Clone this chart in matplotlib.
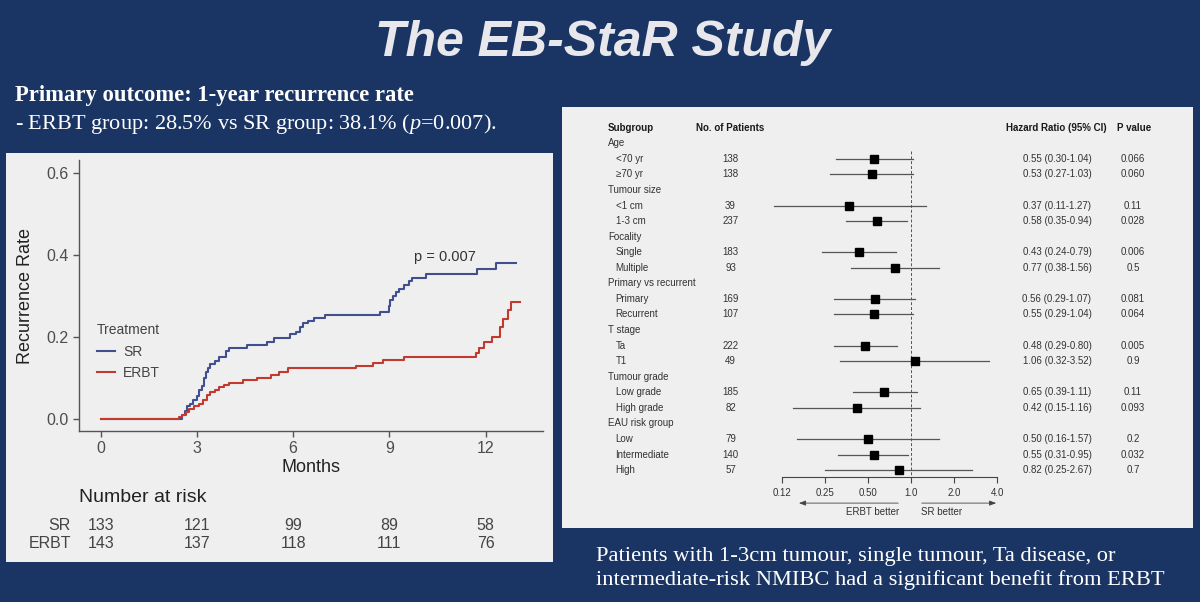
import matplotlib
matplotlib.use("Agg")
import matplotlib.pyplot as plt
import matplotlib.transforms as mtransforms
from matplotlib.patches import Rectangle
from matplotlib.ticker import NullLocator

plt.rcParams['font.family'] = ['Liberation Sans', 'DejaVu Sans']
plt.rcParams['mathtext.fontset'] = 'custom'
plt.rcParams['mathtext.it'] = 'Liberation Serif:italic'
plt.rcParams['mathtext.rm'] = 'Liberation Serif'

# ---- Kaplan-Meier style cumulative recurrence ----
sr_months = [0, 2.48, 2.55, 2.62, 2.70, 2.78, 2.88, 3.00, 3.05, 3.15, 3.22, 3.28, 3.35,
             3.42, 3.55, 3.70, 3.92, 4.00, 4.55, 5.20, 5.40, 5.90, 6.10, 6.22, 6.30,
             6.45, 6.65, 7.00, 8.70, 8.98, 9.02, 9.10, 9.20, 9.30, 9.45, 9.60, 9.72,
             10.15, 11.73, 12.34, 12.95]
sr_rate = [0, 0.0, 0.008, 0.02, 0.03, 0.037, 0.045, 0.055, 0.07, 0.08, 0.10, 0.115, 0.125,
           0.133, 0.14, 0.15, 0.165, 0.172, 0.18, 0.188, 0.197, 0.206, 0.213, 0.225, 0.235,
           0.24, 0.247, 0.253, 0.262, 0.275, 0.29, 0.30, 0.31, 0.318, 0.326, 0.336, 0.345,
           0.353, 0.365, 0.381, 0.381]
erbt_months = [0, 2.45, 2.55, 2.65, 2.75, 2.90, 3.05, 3.20, 3.30, 3.40, 3.55, 3.70, 3.85,
               4.00, 4.43, 4.88, 5.30, 5.55, 5.85, 7.95, 8.50, 8.80, 9.45, 11.70, 11.80,
               11.95, 12.20, 12.45, 12.55, 12.70, 12.78, 13.06]
erbt_rate = [0, 0.005, 0.01, 0.017, 0.024, 0.03, 0.037, 0.047, 0.057, 0.065, 0.07, 0.077, 0.083,
             0.088, 0.095, 0.10, 0.107, 0.115, 0.123, 0.13, 0.137, 0.143, 0.15, 0.16, 0.172,
             0.188, 0.20, 0.225, 0.245, 0.266, 0.286, 0.286]

risk_months = [0, 3, 6, 9, 12]
risk_sr = [133, 121, 99, 89, 58]
risk_erbt = [143, 137, 118, 111, 76]

# ---- forest plot rows ----
row_labels = ["Age", "<70 yr", "\u226570 yr", "Tumour size", "<1 cm", "1-3 cm",
              "Focality", "Single", "Multiple", "Primary vs recurrent", "Primary", "Recurrent",
              "T stage", "Ta", "T1", "Tumour grade", "Low grade", "High grade",
              "EAU risk group", "Low", "Intermediate", "High"]
patients = [None, 138, 138, None, 39, 237, None, 183, 93, None, 169, 107,
            None, 222, 49, None, 185, 82, None, 79, 140, 57]
hr = [None, 0.55, 0.53, None, 0.37, 0.58, None, 0.43, 0.77, None, 0.56, 0.55,
      None, 0.48, 1.06, None, 0.65, 0.42, None, 0.50, 0.55, 0.82]
ci_low = [None, 0.30, 0.27, None, 0.11, 0.35, None, 0.24, 0.38, None, 0.29, 0.29,
          None, 0.29, 0.32, None, 0.39, 0.15, None, 0.16, 0.31, 0.25]
ci_high = [None, 1.04, 1.03, None, 1.27, 0.94, None, 0.79, 1.56, None, 1.07, 1.04,
           None, 0.80, 3.52, None, 1.11, 1.16, None, 1.57, 0.95, 2.67]
p_values = [None, "0.066", "0.060", None, "0.11", "0.028", None, "0.006", "0.5", None,
            "0.081", "0.064", None, "0.005", "0.9", None, "0.11", "0.093", None,
            "0.2", "0.032", "0.7"]
hr_ticks = [0.125, 0.25, 0.5, 1.0, 2.0, 4.0]
hr_ticklabels = ["0.12", "0.25", "0.50", "1.0", "2.0", "4.0"]

W, H = 1200, 602
BG = "#1a3563"
PANEL = "#efefef"
SR_COL = "#414f8e"
ERBT_COL = "#c2392f"


def fx(px):
    return px / W


def fy(py):
    return 1 - py / H


fig = plt.figure(figsize=(12, 6.02), dpi=100, facecolor=BG)

# slide text
fig.text(fx(603), fy(56), "The EB-StaR Study", ha='center', va='baseline',
         fontsize=36, fontweight='bold', fontstyle='italic', color='#e8e8ec')
fig.text(fx(15), fy(95), "Primary outcome: 1-year recurrence rate", ha='left', va='center',
         fontsize=16.3, fontweight='bold', family='Liberation Serif', color='white')
fig.text(fx(15), fy(124), "- ERBT group: 28.5% vs SR group: 38.1% ($\\mathit{p}$=0.007).",
         ha='left', va='center', fontsize=16.0, family='Liberation Serif', color='white')
fig.text(fx(596), fy(557), "Patients with 1-3cm tumour, single tumour, Ta disease, or",
         ha='left', va='center', fontsize=16.2, family='Liberation Serif', color='white')
fig.text(fx(596), fy(580), "intermediate-risk NMIBC had a significant benefit from ERBT",
         ha='left', va='center', fontsize=16.2, family='Liberation Serif', color='white')

# left panel background
fig.patches.append(Rectangle((fx(6), fy(562)), fx(553) - fx(6), (562 - 153) / H,
                             transform=fig.transFigure, facecolor=PANEL, edgecolor='none',
                             zorder=-1))

# ---- KM plot ----
ax = fig.add_axes([fx(79.3), fy(431), fx(543) - fx(79.3), (431 - 160) / H])
ax.set_facecolor(PANEL)
ax.step(sr_months, sr_rate, where='post', color=SR_COL, lw=1.5, label='SR')
ax.step(erbt_months, erbt_rate, where='post', color=ERBT_COL, lw=1.5, label='ERBT')
ax.set_xlim(-0.667, 13.79)
ax.set_ylim(-0.03, 0.6325)
ax.set_xticks(risk_months)
ax.set_yticks([0.0, 0.2, 0.4, 0.6])
ax.set_yticklabels(["0.0", "0.2", "0.4", "0.6"])
for s in ['top', 'right']:
    ax.spines[s].set_visible(False)
for s in ['left', 'bottom']:
    ax.spines[s].set_color('#555555')
    ax.spines[s].set_linewidth(1.0)
ax.tick_params(labelsize=11.5, colors='#555555', labelcolor='#4d4d4d', length=4, width=1)
ax.set_xlabel("Months", fontsize=13, color='#222222', labelpad=2)
ax.set_ylabel("Recurrence Rate", fontsize=13, color='#222222', labelpad=9)
ax.text(10.72, 0.396, "p = 0.007", ha='center', va='center', fontsize=10.5, color='#333333')

leg = ax.legend(title="Treatment", loc='upper left', bbox_to_anchor=(fx(90), fy(316)),
                bbox_transform=fig.transFigure, frameon=False, fontsize=10,
                title_fontsize=10, handlelength=1.3, handletextpad=0.6,
                labelspacing=0.55, borderpad=0, alignment='left')
for t in leg.get_texts():
    t.set_color('#444444')
leg.get_title().set_color('#444444')

# number at risk table
rt = mtransforms.blended_transform_factory(ax.transData, fig.transFigure)
fig.text(fx(79), fy(497), "Number at risk", ha='left', va='center', fontsize=14,
         color='#222222')
fig.text(fx(71), fy(525), "SR", ha='right', va='center', fontsize=11.5, color='#444444')
fig.text(fx(71), fy(543), "ERBT", ha='right', va='center', fontsize=11.5, color='#444444')
for m, a, b in zip(risk_months, risk_sr, risk_erbt):
    ax.text(m, fy(525), str(a), transform=rt, ha='center', va='center', fontsize=11.5,
            color='#444444', clip_on=False)
    ax.text(m, fy(543), str(b), transform=rt, ha='center', va='center', fontsize=11.5,
            color='#444444', clip_on=False)

# ---- forest plot ----
fax = fig.add_axes([fx(562), fy(528), fx(1193) - fx(562), (528 - 107) / H])
fax.set_facecolor(PANEL)
fax.set_xscale('log', base=2)
fax.set_xlim(2 ** -8.116, 2 ** 6.558)
fax.set_ylim(24.72, -2.333)
for s in ['top', 'right', 'left']:
    fax.spines[s].set_visible(False)
fax.spines['bottom'].set_position(('data', 21.45))
fax.spines['bottom'].set_bounds(0.125, 4)
fax.spines['bottom'].set_color('#444444')
fax.spines['bottom'].set_linewidth(0.8)
fax.set_xticks(hr_ticks)
fax.set_xticklabels(hr_ticklabels)
fax.xaxis.set_minor_locator(NullLocator())
fax.set_yticks([])
fax.tick_params(axis='x', labelsize=7, labelcolor='#333333', color='#444444',
                length=4, width=0.8, pad=4)

ft = mtransforms.blended_transform_factory(fig.transFigure, fax.transData)
hdr = dict(fontsize=7, fontweight='bold', color='#1a1a1a', va='center', transform=ft)
fax.text(fx(608), -1.0, "Subgroup", ha='left', **hdr)
fax.text(fx(730), -1.0, "No. of Patients", ha='center', **hdr)
fax.text(fx(1056), -1.0, "Hazard Ratio (95% CI)", ha='center', **hdr)
fax.text(fx(1134), -1.0, "P value", ha='center', **hdr)

fax.plot([1, 1], [0.5, 21.45], ls=(0, (3, 2)), color='#555555', lw=0.7)
cell = dict(fontsize=7, color='#333333', va='center', transform=ft)
for i, lab in enumerate(row_labels):
    if hr[i] is None:
        fax.text(fx(608), i, lab, ha='left', **cell)
        continue
    fax.text(fx(615.5), i, lab, ha='left', **cell)
    fax.text(fx(730.5), i, str(patients[i]), ha='center', **cell)
    fax.text(fx(1057), i, "{:.2f} ({:.2f}-{:.2f})".format(hr[i], ci_low[i], ci_high[i]),
             ha='center', **cell)
    fax.text(fx(1133), i, p_values[i], ha='center', **cell)
    fax.plot([ci_low[i], ci_high[i]], [i, i], color='#555555', lw=0.9)
    fax.plot(hr[i], i, 's', color='black', ms=5.5)

arrow = dict(arrowstyle='-|>,head_length=0.4,head_width=0.15', color='#444444', lw=0.6)
fax.annotate("", xy=(0.157, 23.12), xytext=(0.851, 23.12), arrowprops=arrow)
fax.annotate("", xy=(4.13, 23.12), xytext=(1.138, 23.12), arrowprops=arrow)
fax.text(fx(872.5), 23.7, "ERBT better", ha='center', **cell)
fax.text(fx(941.5), 23.7, "SR better", ha='center', **cell)

fig.savefig("out.png", dpi=100, facecolor=BG)
